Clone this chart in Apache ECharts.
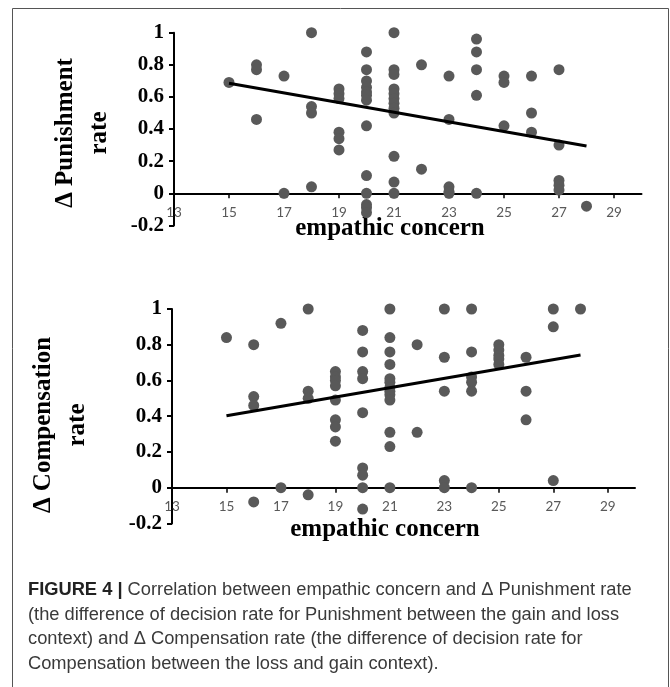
<!DOCTYPE html>
<html>
<head>
<meta charset="utf-8">
<script src="https://cdn.jsdelivr.net/npm/echarts@6/dist/echarts.min.js"></script>
<style>
	html, body { margin: 0; padding: 0; background: #fff; }
	#chart { width: 670px; height: 687px; }
</style>
</head>
<body>
<div id="chart"></div>
<script>
// x tick labels shown on both charts
const xTickValues = [13, 15, 17, 19, 21, 23, 25, 27, 29];

// Δ Punishment rate vs empathic concern
const punX = [
	15,
	16, 16, 16,
	17, 17,
	18, 18, 18, 18,
	19, 19, 19, 19, 19, 19,
	20, 20, 20, 20, 20, 20, 20, 20, 20, 20, 20, 20, 20,
	21, 21, 21, 21, 21, 21, 21, 21, 21, 21, 21, 21,
	22, 22,
	23, 23, 23, 23, 23,
	24, 24, 24, 24, 24,
	25, 25, 25,
	26, 26, 26,
	27, 27, 27, 27, 27,
	28,
];
const punY = [
	0.69,
	0.8, 0.77, 0.46,
	0.73, 0,
	1, 0.54, 0.5, 0.04,
	0.65, 0.62, 0.59, 0.38, 0.34, 0.27,
	0.88, 0.77, 0.7, 0.66, 0.63, 0.61, 0.58, 0.42, 0.11, 0, -0.07, -0.09, -0.12,
	1, 0.77, 0.74, 0.65, 0.62, 0.59, 0.56, 0.53, 0.5, 0.23, 0.07, 0,
	0.8, 0.15,
	0.73, 0.46, 0.04, 0.01, 0,
	0.96, 0.88, 0.77, 0.61, 0,
	0.73, 0.69, 0.42,
	0.73, 0.5, 0.38,
	0.77, 0.3, 0.08, 0.05, 0.02,
	-0.08,
];
const punTrendX = [15, 28];
const punTrendY = [0.685, 0.295];

// Δ Compensation rate vs empathic concern
const compX = [
	15,
	16, 16, 16, 16,
	17, 17,
	18, 18, 18, 18,
	19, 19, 19, 19, 19, 19, 19, 19,
	20, 20, 20, 20, 20, 20, 20, 20, 20,
	21, 21, 21, 21, 21, 21, 21, 21, 21, 21, 21, 21, 21,
	22, 22,
	23, 23, 23, 23, 23,
	24, 24, 24, 24, 24, 24,
	25, 25, 25, 25, 25,
	26, 26, 26,
	27, 27, 27,
	28,
];
const compY = [
	0.84,
	0.8, 0.51, 0.46, -0.08,
	0.92, 0,
	1, 0.54, 0.5, -0.04,
	0.65, 0.62, 0.6, 0.57, 0.49, 0.38, 0.34, 0.26,
	0.88, 0.76, 0.65, 0.61, 0.42, 0.11, 0.07, 0, -0.12,
	1, 0.84, 0.76, 0.69, 0.61, 0.59, 0.56, 0.54, 0.52, 0.49, 0.31, 0.23, 0,
	0.8, 0.31,
	1, 0.73, 0.54, 0.04, 0,
	1, 0.76, 0.62, 0.59, 0.54, 0,
	0.8, 0.77, 0.74, 0.72, 0.69,
	0.73, 0.54, 0.38,
	1, 0.9, 0.04,
	1,
];
const compTrendX = [15, 28];
const compTrendY = [0.403, 0.742];

const yMin = -0.2;
const yMax = 1;
const serifFont = "'Liberation Serif', 'DejaVu Serif', serif";
const pointColour = "#595959";

const grids = [
	{ left: 174, top: 32.7, width: 467.5, height: 192.7 },
	{ left: 172, top: 309, width: 463, height: 214.4 },
];

function pairs(xs, ys) {
	return xs.map((x, i) => [x, ys[i]]);
}

function makeXAxis(gridIndex) {
	// the x axis crosses the y axis at 0, labels and ticks travel with it
	const zeroOffset = -grids[gridIndex].height * (0 - yMin) / (yMax - yMin);
	return {
		type: "value",
		gridIndex: gridIndex,
		min: 13,
		max: 30,
		offset: zeroOffset,
		splitLine: { show: false },
		axisLine: { onZero: false, lineStyle: { color: "#000", width: 2 } },
		axisTick: {
			show: true,
			length: 5,
			customValues: xTickValues,
			lineStyle: { color: "#000", width: 1.5 },
		},
		axisLabel: {
			customValues: xTickValues,
			margin: 12,
			color: "#595959",
			fontFamily: "Lato",
			fontSize: 13.5,
		},
	};
}

function makeYAxis(gridIndex) {
	return {
		type: "value",
		gridIndex: gridIndex,
		min: yMin,
		max: yMax,
		interval: 0.2,
		splitLine: { show: false },
		axisLine: { show: true, onZero: false, lineStyle: { color: "#000", width: 2 } },
		axisTick: { show: true, length: 5, lineStyle: { color: "#000", width: 2 } },
		axisLabel: {
			margin: 10,
			color: "#000",
			fontFamily: serifFont,
			fontWeight: "bold",
			fontSize: 21,
			formatter: (v) => String(+v.toFixed(1)),
		},
	};
}

function scatterSeries(idx, xs, ys) {
	return {
		type: "scatter",
		xAxisIndex: idx,
		yAxisIndex: idx,
		data: pairs(xs, ys),
		symbolSize: 11,
		itemStyle: { color: pointColour, opacity: 1 },
		z: 2,
	};
}

function trendSeries(idx, xs, ys) {
	return {
		type: "line",
		xAxisIndex: idx,
		yAxisIndex: idx,
		data: pairs(xs, ys),
		showSymbol: false,
		symbol: "none",
		lineStyle: { color: "#000", width: 3 },
		z: 3,
	};
}

function titleText(x, y, text, rotated) {
	return {
		type: "text",
		x: x,
		y: y,
		rotation: rotated ? Math.PI / 2 : 0,
		style: {
			text: text,
			fill: "#000",
			font: "bold 25px " + serifFont,
			align: "center",
			verticalAlign: "middle",
			lineHeight: 34,
		},
	};
}

const captionLines = [
	"{b|FIGURE 4 |} Correlation between empathic concern and Δ Punishment rate",
	"(the difference of decision rate for Punishment between the gain and loss",
	"context) and Δ Compensation rate (the difference of decision rate for",
	"Compensation between the loss and gain context).",
];

const chartDom = document.getElementById("chart");
const myChart = echarts.init(chartDom);

const option = {
	animation: false,
	grid: grids,
	xAxis: [makeXAxis(0), makeXAxis(1)],
	yAxis: [makeYAxis(0), makeYAxis(1)],
	series: [
		scatterSeries(0, punX, punY),
		trendSeries(0, punTrendX, punTrendY),
		scatterSeries(1, compX, compY),
		trendSeries(1, compTrendX, compTrendY),
	],
	graphic: [
		{
			type: "rect",
			shape: { x: 12.5, y: 8.5, width: 656, height: 700 },
			style: { fill: "none", stroke: "#555", lineWidth: 1 },
		},
		titleText(83, 133, "Δ Punishment\nrate", true),
		titleText(61, 425, "Δ Compensation\nrate", true),
		titleText(390, 229, "empathic concern", false),
		titleText(385, 530, "empathic concern", false),
	].concat(
		captionLines.map((line, i) => ({
			type: "text",
			x: 28,
			y: 590 + i * 24.5,
			style: {
				text: line,
				fill: "#3a3a3a",
				font: "18.3px 'Liberation Sans', Arial, sans-serif",
				verticalAlign: "middle",
				rich: {
					b: { fontWeight: "bold", fill: "#222", fontSize: 18.3 },
				},
			},
		}))
	),
};

myChart.setOption(option);
</script>
</body>
</html>
